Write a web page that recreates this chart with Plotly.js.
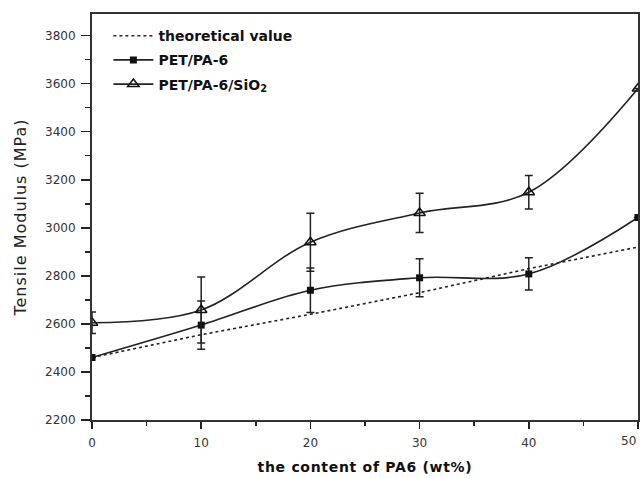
<!DOCTYPE html>
<html>
<head>
<meta charset="utf-8">
<script src="https://cdn.plot.ly/plotly-3.0.1.min.js"></script>
<style>
html,body{margin:0;padding:0;background:#fff;}
#chart{width:640px;height:478px;}
#chart .xtitle{letter-spacing:0.7px;}
#chart .ytitle{letter-spacing:1px;}
</style>
</head>
<body>
<div id="chart"></div>
<script>
const content = [0, 10, 20, 30, 40, 50];
const theoretical = [2460, 2555, 2640, 2730, 2830, 2920];
const petPa6 = [2460, 2595, 2740, 2792, 2808, 3043];
const petPa6Err = [0, 100, 93, 79, 67, 0];
const petPa6SiO2 = [2605, 2658, 2940, 3062, 3148, 3580];
const petPa6SiO2Err = [45, 137, 121, 82, 70, 0];
const yTicks = [2200, 2400, 2600, 2800, 3000, 3200, 3400, 3600, 3800];
const xTicks = [0, 10, 20, 30, 40, 50];

const FONT = 'DejaVu Sans, Verdana, sans-serif';

const traces = [
  {
    x: content, y: theoretical, name: 'theoretical value', type: 'scatter', mode: 'lines',
    legendgroup: 'a',
    line: {color: '#222', width: 1.6, dash: 'dot'}
  },
  {
    x: content, y: petPa6, name: 'PET/PA-6', type: 'scatter', mode: 'lines+markers',
    legendgroup: 'b',
    line: {color: '#222', width: 1.6, shape: 'spline', smoothing: 1},
    marker: {symbol: 'square', size: 7, color: '#111'},
    error_y: {type: 'data', array: petPa6Err, visible: true, color: '#222', thickness: 1.5, width: 4}
  },
  {
    x: content, y: petPa6SiO2, name: 'PET/PA-6/SiO<sub>2</sub>', type: 'scatter', mode: 'lines+markers',
    legendgroup: 'c',
    line: {color: '#222', width: 1.6, shape: 'spline', smoothing: 1},
    marker: {symbol: 'triangle-up-open', size: 10, color: '#111', line: {width: 1.5}},
    error_y: {type: 'data', array: petPa6SiO2Err, visible: true, color: '#222', thickness: 1.5, width: 4}
  }
];

const layout = {
  width: 640, height: 478,
  margin: {l: 92, r: 2, t: 14, b: 58},
  paper_bgcolor: '#fff', plot_bgcolor: '#fff',
  font: {family: FONT, color: '#222'},
  showlegend: true,
  legend: {
    x: 0.03, y: 0.985, xanchor: 'left', yanchor: 'top',
    bgcolor: 'rgba(0,0,0,0)', borderwidth: 0,
    font: {size: 14, color: '#111', family: FONT, weight: 'bold'},
    traceorder: 'grouped', tracegroupgap: 3, itemwidth: 40
  },
  xaxis: {
    range: [0, 50], tickvals: xTicks, ticktext: xTicks.map(String),
    ticks: 'outside', ticklen: 7, tickwidth: 1.5, tickcolor: '#222',
    minor: {dtick: 5, ticks: 'outside', ticklen: 4, tickwidth: 1.5, tickcolor: '#222'},
    showgrid: false, zeroline: false,
    showline: true, linecolor: '#333', linewidth: 2, mirror: true,
    tickfont: {size: 12, color: '#333', family: FONT},
    ticklabelstandoff: 4,
    title: {text: 'the content of PA6 (wt%)', font: {size: 14, color: '#111', weight: 'bold', family: FONT}, standoff: 13}
  },
  yaxis: {
    range: [2200, 3890], tickvals: yTicks, ticktext: yTicks.map(String),
    ticks: 'outside', ticklen: 9, tickwidth: 1.5, tickcolor: '#222',
    minor: {dtick: 100, tick0: 2200, ticks: 'outside', ticklen: 5, tickwidth: 1.5, tickcolor: '#222'},
    showgrid: false, zeroline: false,
    showline: true, linecolor: '#333', linewidth: 2, mirror: true,
    tickfont: {size: 12, color: '#333', family: FONT},
    ticklabelstandoff: 3,
    title: {text: 'Tensile Modulus (MPa)', font: {size: 16, color: '#222', family: FONT}, standoff: 14}
  },
  annotations: [
    {x: 50, y: 0, xref: 'x', yref: 'paper', xanchor: 'right', yanchor: 'top', yshift: -12, text: '50', showarrow: false,
     font: {size: 12, color: '#333', family: FONT}}
  ]
};

Plotly.newPlot('chart', traces, layout, {staticPlot: true, displayModeBar: false});
</script>
</body>
</html>
